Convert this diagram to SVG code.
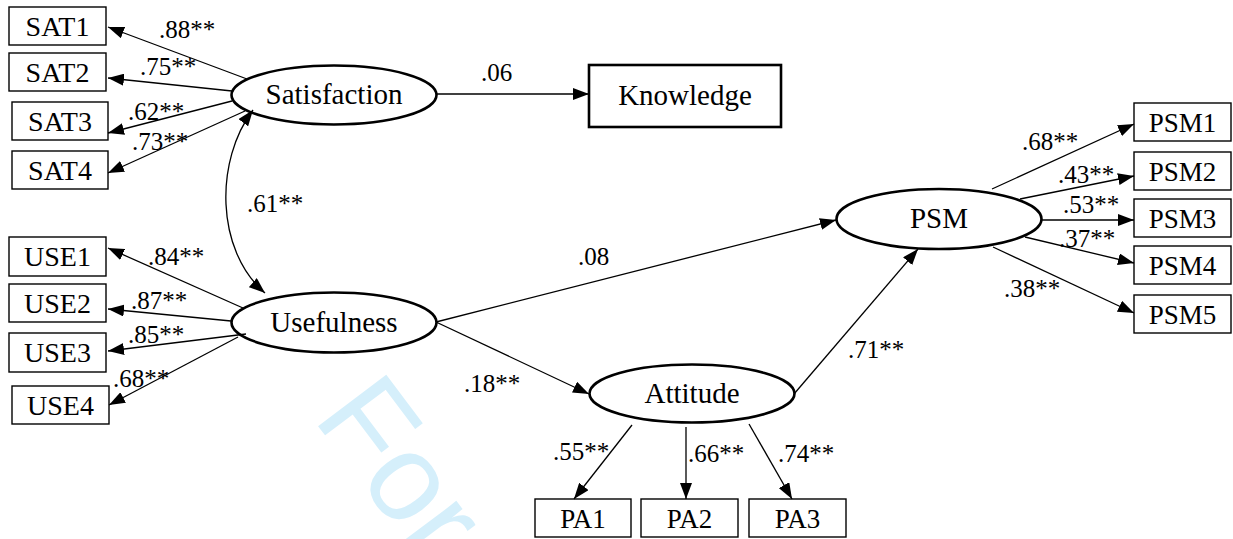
<svg xmlns="http://www.w3.org/2000/svg" width="1233" height="539" viewBox="0 0 1233 539" font-family="'Liberation Serif', 'Times New Roman', serif">
  <defs>
    <marker id="ah" viewBox="0 0 16 12" refX="16" refY="6" markerWidth="16" markerHeight="12" markerUnits="userSpaceOnUse" orient="auto-start-reverse">
      <path d="M0,0 L16,6 L0,12 z" fill="#000"/>
    </marker>
  </defs>
  <style>
    .box { fill: #fff; stroke: #000; stroke-width: 1.4; }
    .kbox { fill: #fff; stroke: #000; stroke-width: 2.6; }
    .lat { fill: #fff; stroke: #000; stroke-width: 2.6; }
    .serif { font-family: 'Liberation Serif', 'Times New Roman', serif; fill: #000; }
    .ind { font-size: 28px; text-anchor: middle; }
    .ind2 { font-size: 27px; text-anchor: middle; }
    .big { font-size: 29px; text-anchor: middle; }
    .coef { font-size: 25px; }
    .edge { stroke: #000; stroke-width: 1.3; fill: none; marker-end: url(#ah); }
    .cov { stroke: #000; stroke-width: 1.3; fill: none; marker-start: url(#ah); marker-end: url(#ah); }
    .wm { font-family: 'Liberation Sans', Arial, sans-serif; font-size: 124px; fill: #d5effb; }
  </style>

  <rect width="1233" height="539" fill="#fff"/>

  <!-- background watermark -->
  <text class="wm" transform="translate(312,418) rotate(53)">For</text>

  <g class="serif">
    <!-- latent variables -->
    <g id="satisfaction">
      <ellipse class="lat" cx="334" cy="95" rx="102.5" ry="29.5"/>
      <text class="big" x="334" y="104">Satisfaction</text>
    </g>
    <g id="usefulness">
      <ellipse class="lat" cx="334" cy="322.5" rx="102.5" ry="30"/>
      <text class="big" x="334" y="332">Usefulness</text>
    </g>
    <g id="psm">
      <ellipse class="lat" cx="939" cy="219" rx="102.5" ry="30"/>
      <text class="big" x="939" y="228">PSM</text>
    </g>
    <g id="attitude">
      <ellipse class="lat" cx="692" cy="393.5" rx="102.5" ry="29"/>
      <text class="big" x="692" y="403">Attitude</text>
    </g>

    <!-- observed variables -->
    <g id="knowledge">
      <rect class="kbox" x="589" y="65" width="192" height="62"/>
      <text class="big" x="685" y="105">Knowledge</text>
    </g>

    <g id="sat1"><rect class="box" x="9" y="7" width="97" height="38"/><text class="ind" x="57.5" y="35.5">SAT1</text></g>
    <g id="sat2"><rect class="box" x="9" y="53" width="97" height="38"/><text class="ind" x="57.5" y="81.5">SAT2</text></g>
    <g id="sat3"><rect class="box" x="12" y="102" width="96" height="38"/><text class="ind" x="60" y="130.5">SAT3</text></g>
    <g id="sat4"><rect class="box" x="12" y="151" width="96" height="38"/><text class="ind" x="60" y="179.5">SAT4</text></g>

    <g id="use1"><rect class="box" x="9" y="237" width="97" height="39"/><text class="ind" x="57.5" y="266">USE1</text></g>
    <g id="use2"><rect class="box" x="9" y="284" width="97" height="38"/><text class="ind" x="57.5" y="312.5">USE2</text></g>
    <g id="use3"><rect class="box" x="9" y="333" width="97" height="39"/><text class="ind" x="57.5" y="362">USE3</text></g>
    <g id="use4"><rect class="box" x="12" y="386" width="97" height="38"/><text class="ind" x="60.5" y="414.5">USE4</text></g>

    <g id="psm1"><rect class="box" x="1134" y="103" width="97" height="38"/><text class="ind2" x="1182.5" y="131.5">PSM1</text></g>
    <g id="psm2"><rect class="box" x="1134" y="152" width="97" height="38"/><text class="ind2" x="1182.5" y="180.5">PSM2</text></g>
    <g id="psm3"><rect class="box" x="1134" y="199" width="97" height="38"/><text class="ind2" x="1182.5" y="227.5">PSM3</text></g>
    <g id="psm4"><rect class="box" x="1134" y="246" width="97" height="38"/><text class="ind2" x="1182.5" y="274.5">PSM4</text></g>
    <g id="psm5"><rect class="box" x="1134" y="295" width="97" height="38"/><text class="ind2" x="1182.5" y="323.5">PSM5</text></g>

    <g id="pa1"><rect class="box" x="535" y="499" width="96" height="38"/><text class="ind2" x="583" y="527.5">PA1</text></g>
    <g id="pa2"><rect class="box" x="641" y="499" width="97" height="38"/><text class="ind2" x="689.5" y="527.5">PA2</text></g>
    <g id="pa3"><rect class="box" x="749" y="499" width="97" height="38"/><text class="ind2" x="797.5" y="527.5">PA3</text></g>

    <!-- paths, loadings and the correlation -->
    <g id="connectors">
      <!-- Satisfaction loadings -->
      <path class="edge" d="M247,79 L108,27"/>
      <path class="edge" d="M232,91 L108,78"/>
      <path class="edge" d="M232,101 L108,133"/>
      <path class="edge" d="M245,111 L108,173"/>
      <!-- Usefulness loadings -->
      <path class="edge" d="M243,308 L108,248"/>
      <path class="edge" d="M231,321 L108,309"/>
      <path class="edge" d="M246,334 L108,351"/>
      <path class="edge" d="M238,337 L109,405"/>
      <!-- PSM loadings -->
      <path class="edge" d="M992,189 L1134,124"/>
      <path class="edge" d="M1020,199 L1134,176"/>
      <path class="edge" d="M1042,220 L1134,220"/>
      <path class="edge" d="M1025,237 L1134,263"/>
      <path class="edge" d="M993,247 L1134,313"/>
      <!-- Attitude loadings -->
      <path class="edge" d="M632,425 L574,499"/>
      <path class="edge" d="M686,427 L686,499"/>
      <path class="edge" d="M749,424 L792,499"/>
      <!-- structural paths -->
      <path class="edge" d="M437,94 L589,94"/>
      <path class="edge" d="M436,322 L836,220"/>
      <path class="edge" d="M436,322 L589,394"/>
      <path class="edge" d="M794,394 L918,249"/>
      <!-- correlation -->
      <path class="cov" d="M253,110 C215,160 215,250 265,293"/>

      <g class="coef">
        <text x="159" y="38">.88**</text>
        <text x="140" y="75">.75**</text>
        <text x="128" y="120">.62**</text>
        <text x="132" y="150">.73**</text>
        <text x="148" y="265">.84**</text>
        <text x="131" y="309">.87**</text>
        <text x="128" y="343">.85**</text>
        <text x="113" y="387">.68**</text>
        <text x="247" y="212">.61**</text>
        <text x="481" y="81">.06</text>
        <text x="578" y="265">.08</text>
        <text x="464" y="392">.18**</text>
        <text x="848" y="358">.71**</text>
        <text x="1022" y="150">.68**</text>
        <text x="1058" y="183">.43**</text>
        <text x="1063" y="213">.53**</text>
        <text x="1059" y="247">.37**</text>
        <text x="1004" y="297">.38**</text>
        <text x="553" y="460">.55**</text>
        <text x="688" y="462">.66**</text>
        <text x="778" y="462">.74**</text>
      </g>
    </g>
  </g>
</svg>
